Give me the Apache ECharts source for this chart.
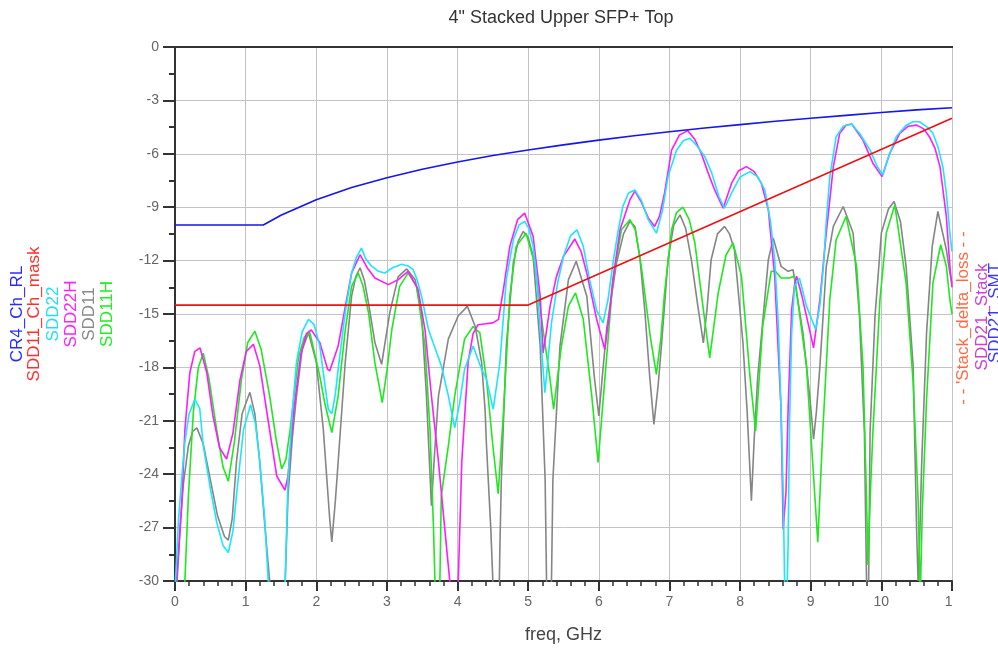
<!DOCTYPE html>
<html><head><meta charset="utf-8">
<script src="https://cdn.jsdelivr.net/npm/echarts@6/dist/echarts.min.js"></script>
<style>html,body{margin:0;padding:0;background:#fff}#c{width:998px;height:649px}</style>
</head><body><div id="c"></div>
<script>
const titleText = '4" Stacked Upper SFP+ Top';
const xName = 'freq, GHz';
const xTicks = [0,1,2,3,4,5,6,7,8,9,10,11];
const yTicks = [0,-3,-6,-9,-12,-15,-18,-21,-24,-27,-30];

const cr4ChRL = [[0,-10],[1.25,-10],[1.5,-9.45],[2,-8.58],[2.5,-7.89],[3,-7.35],[3.5,-6.87],[4,-6.46],[4.5,-6.1],[5,-5.79],[5.5,-5.5],[6,-5.23],[6.5,-4.99],[7,-4.76],[7.5,-4.55],[8,-4.36],[8.5,-4.17],[9,-4.0],[9.5,-3.84],[10,-3.68],[10.5,-3.53],[11,-3.41]];
const sdd11ChMask = [[0,-14.5],[5,-14.5],[11,-4.0]];
const sdd22 = [[0,-30.5],[0.05,-26.5],[0.1,-24],[0.14,-22.2],[0.2,-20.6],[0.28,-19.8],[0.35,-20.3],[0.4,-22.4],[0.5,-24.8],[0.59,-26.7],[0.68,-28],[0.755,-28.4],[0.82,-27.2],[0.87,-25.2],[0.97,-21.5],[1.07,-20.1],[1.14,-21.2],[1.2,-23.3],[1.27,-26.5],[1.32,-30],[1.36,-33],[1.52,-33],[1.56,-30],[1.6,-24.3],[1.66,-20.5],[1.72,-17.7],[1.8,-16.0],[1.89,-15.3],[1.97,-15.6],[2.05,-16.8],[2.12,-18.9],[2.17,-20.35],[2.22,-20.6],[2.27,-19.5],[2.31,-18.1],[2.41,-14.9],[2.5,-12.7],[2.57,-11.8],[2.64,-11.3],[2.7,-11.9],[2.78,-12.3],[2.88,-12.6],[2.97,-12.7],[3.08,-12.4],[3.21,-12.2],[3.3,-12.3],[3.37,-12.5],[3.43,-13.1],[3.49,-14.0],[3.59,-15.9],[3.68,-16.9],[3.77,-17.9],[3.87,-19.6],[3.96,-21.4],[4.03,-20.0],[4.1,-18.1],[4.22,-16.8],[4.34,-18.1],[4.41,-18.67],[4.505,-20.35],[4.6,-17.7],[4.69,-13.07],[4.79,-10.83],[4.87,-10.0],[4.95,-9.8],[5.01,-10.2],[5.07,-11.2],[5.12,-13],[5.17,-15.87],[5.236,-19.42],[5.28,-17.6],[5.33,-15.5],[5.42,-13.2],[5.5,-11.76],[5.6,-10.6],[5.69,-10.27],[5.78,-11.2],[5.87,-13.07],[5.97,-14.8],[6.06,-15.5],[6.13,-14.2],[6.2,-12.14],[6.27,-10.4],[6.34,-8.96],[6.42,-8.2],[6.51,-8.03],[6.6,-8.6],[6.7,-9.7],[6.815,-10.46],[6.9,-9.2],[6.98,-7.28],[7.1,-5.8],[7.2,-5.25],[7.29,-5.13],[7.4,-5.6],[7.5,-6.16],[7.6,-7.1],[7.7,-8.4],[7.78,-9.06],[7.88,-8.2],[8.0,-7.3],[8.14,-7.0],[8.25,-7.3],[8.35,-8.03],[8.43,-9.8],[8.49,-11.95],[8.54,-15.5],[8.58,-20.35],[8.61,-25],[8.63,-30],[8.65,-33],[8.68,-28],[8.70,-21.1],[8.73,-16.06],[8.77,-13.44],[8.84,-12.98],[8.94,-14.56],[9.07,-15.87],[9.13,-14.5],[9.18,-12.32],[9.22,-9.8],[9.27,-7.28],[9.36,-5.04],[9.46,-4.45],[9.58,-4.33],[9.7,-4.9],[9.84,-5.79],[9.94,-6.7],[10.02,-7.19],[10.1,-6.2],[10.21,-5.04],[10.35,-4.4],[10.45,-4.2],[10.54,-4.2],[10.65,-4.5],[10.73,-4.85],[10.8,-5.6],[10.87,-6.72],[10.92,-8.2],[10.97,-10.45],[11,-11.5]];
const sdd22H = [[0,-30.5],[0.03,-29.5],[0.094,-25.8],[0.14,-21.5],[0.21,-18.3],[0.28,-17.1],[0.354,-16.9],[0.45,-18.3],[0.536,-20.7],[0.63,-22.5],[0.73,-23.15],[0.82,-21.7],[0.92,-18.7],[1.01,-17.1],[1.11,-16.7],[1.2,-17.9],[1.3,-20.5],[1.44,-24.1],[1.556,-24.9],[1.6,-24.1],[1.68,-20.5],[1.78,-17.3],[1.86,-16.1],[1.93,-15.9],[2.05,-16.6],[2.16,-18.1],[2.19,-18.2],[2.31,-16.8],[2.41,-14.6],[2.5,-12.7],[2.62,-11.67],[2.72,-12.4],[2.83,-12.98],[3.02,-13.35],[3.16,-13.07],[3.3,-12.6],[3.44,-13.6],[3.54,-15.9],[3.63,-19.6],[3.73,-23.3],[3.82,-27.1],[3.89,-30],[3.92,-33],[3.98,-33],[4.01,-30],[4.06,-23.3],[4.15,-17.7],[4.22,-16.1],[4.29,-15.6],[4.4,-15.55],[4.5,-15.5],[4.58,-15.3],[4.65,-13.6],[4.74,-11.2],[4.85,-9.7],[4.95,-9.33],[5.07,-10.64],[5.17,-14.0],[5.21,-17.2],[5.25,-16.2],[5.31,-14.56],[5.4,-12.9],[5.5,-11.76],[5.66,-10.79],[5.75,-11.5],[5.83,-12.7],[5.97,-15.3],[6.085,-16.99],[6.14,-15.3],[6.2,-13.07],[6.3,-10.27],[6.44,-8.59],[6.51,-8.1],[6.6,-8.7],[6.7,-9.6],[6.79,-10.08],[6.86,-9.5],[6.93,-8.21],[7.03,-5.79],[7.14,-4.95],[7.26,-4.7],[7.36,-5.2],[7.45,-5.97],[7.55,-7.1],[7.64,-8.03],[7.76,-9.06],[7.88,-7.65],[7.98,-6.95],[8.09,-6.72],[8.2,-7.0],[8.3,-7.65],[8.4,-9.15],[8.49,-12.88],[8.58,-20.35],[8.61,-27.1],[8.65,-25],[8.68,-20.35],[8.73,-14.75],[8.77,-13.4],[8.8,-12.88],[8.87,-13.9],[8.94,-15.12],[9.04,-16.9],[9.13,-14.19],[9.22,-10.45],[9.32,-6.72],[9.41,-4.85],[9.5,-4.4],[9.58,-4.33],[9.74,-5.23],[9.88,-6.53],[10.01,-7.28],[10.12,-5.97],[10.26,-4.85],[10.38,-4.45],[10.5,-4.39],[10.6,-4.6],[10.68,-5.04],[10.76,-5.7],[10.83,-6.72],[10.92,-9.52],[10.97,-12.32],[11,-13.5]];
const sdd11 = [[0,-33],[0.03,-30],[0.08,-26.5],[0.12,-24.5],[0.19,-22.4],[0.25,-21.6],[0.31,-21.4],[0.4,-22.3],[0.5,-24.3],[0.6,-26.3],[0.7,-27.5],[0.755,-27.7],[0.81,-26.5],[0.87,-23.3],[0.95,-20.6],[1.06,-19.4],[1.13,-20.6],[1.2,-23.3],[1.27,-26.8],[1.34,-30],[1.37,-33],[1.53,-33],[1.56,-30],[1.6,-25.2],[1.66,-22.0],[1.72,-19.6],[1.8,-17.0],[1.89,-16.05],[2.0,-17.7],[2.1,-21.5],[2.19,-26.5],[2.22,-27.8],[2.27,-25.5],[2.31,-23.3],[2.41,-17.7],[2.5,-14.0],[2.56,-12.9],[2.62,-12.4],[2.68,-13.1],[2.74,-14.4],[2.83,-16.6],[2.925,-17.83],[3.04,-14.94],[3.16,-12.9],[3.28,-12.47],[3.4,-13.07],[3.49,-14.94],[3.56,-19.6],[3.63,-25.77],[3.68,-22.5],[3.73,-19.6],[3.87,-16.4],[4.01,-15.1],[4.14,-14.57],[4.25,-15.7],[4.34,-17.7],[4.39,-20.4],[4.41,-22.4],[4.47,-27],[4.5,-30],[4.53,-33],[4.58,-33],[4.6,-28],[4.62,-24.3],[4.69,-16.8],[4.79,-12.1],[4.86,-10.9],[4.93,-10.36],[5.0,-10.7],[5.07,-11.76],[5.17,-16.8],[5.24,-24.3],[5.26,-30],[5.28,-33],[5.31,-33],[5.33,-30],[5.35,-24.3],[5.45,-16.8],[5.57,-13.07],[5.68,-12.04],[5.83,-14.0],[5.94,-18.67],[6.0,-20.73],[6.05,-18.5],[6.11,-15.87],[6.25,-12.14],[6.35,-10.5],[6.44,-9.8],[6.51,-10.08],[6.58,-11.8],[6.65,-14.75],[6.72,-18.5],[6.78,-21.2],[6.84,-19],[6.89,-16.6],[6.98,-11.95],[7.06,-10.0],[7.15,-9.43],[7.23,-10.2],[7.31,-11.95],[7.4,-14.5],[7.48,-16.62],[7.53,-14.8],[7.59,-11.95],[7.68,-10.5],[7.78,-10.08],[7.85,-10.5],[7.92,-11.39],[8.04,-16.6],[8.1,-20.5],[8.16,-25.49],[8.2,-22],[8.25,-18.5],[8.4,-11.95],[8.47,-10.74],[8.58,-12.32],[8.68,-12.6],[8.75,-12.51],[8.89,-16.06],[8.99,-19.79],[9.04,-22.03],[9.08,-20.5],[9.13,-17.93],[9.22,-12.32],[9.32,-10.08],[9.46,-8.96],[9.6,-10.45],[9.69,-15.12],[9.76,-21.66],[9.79,-30],[9.8,-33],[9.82,-30],[9.84,-21.66],[9.91,-15.12],[10.0,-10.45],[10.1,-9.1],[10.18,-8.68],[10.27,-9.8],[10.35,-12.32],[10.45,-17.93],[10.5,-27.3],[10.52,-30],[10.54,-28],[10.57,-23.5],[10.64,-16.06],[10.72,-11.2],[10.8,-9.24],[10.92,-11.39],[10.97,-12.7],[11,-13.3]];
const sdd11H = [[0.1,-33],[0.14,-30],[0.19,-25.2],[0.26,-20.5],[0.33,-18.0],[0.40,-17.2],[0.48,-18.6],[0.59,-21.5],[0.68,-23.6],[0.755,-24.4],[0.84,-22.2],[0.94,-18.7],[1.03,-16.6],[1.13,-15.96],[1.22,-17.0],[1.34,-19.6],[1.43,-22.0],[1.51,-23.7],[1.57,-23.2],[1.63,-21.5],[1.75,-17.4],[1.83,-16.3],[1.91,-16.05],[2.05,-18.5],[2.12,-20.0],[2.22,-21.66],[2.31,-19.6],[2.41,-15.9],[2.5,-13.45],[2.594,-12.7],[2.66,-13.4],[2.74,-14.94],[2.83,-17.74],[2.934,-19.98],[3.0,-18.2],[3.07,-15.87],[3.18,-13.45],[3.3,-12.7],[3.42,-13.45],[3.54,-16.8],[3.61,-21.5],[3.66,-27.1],[3.68,-30],[3.7,-33],[3.73,-33],[3.75,-30],[3.77,-25.2],[3.87,-22.4],[3.96,-19.6],[4.1,-16.4],[4.22,-15.7],[4.316,-16.06],[4.41,-18.67],[4.5,-22.4],[4.575,-25.1],[4.65,-20.54],[4.74,-14.0],[4.83,-11.2],[4.97,-10.46],[5.09,-12.14],[5.21,-15.87],[5.31,-18.67],[5.36,-20.35],[5.47,-16.8],[5.57,-14.56],[5.67,-13.82],[5.78,-15.3],[5.9,-19.6],[5.99,-23.34],[6.085,-18.67],[6.2,-13.07],[6.32,-10.27],[6.44,-9.7],[6.52,-10.3],[6.6,-12.3],[6.65,-13.82],[6.73,-16.3],[6.815,-18.39],[6.88,-16.3],[6.93,-13.82],[7.03,-10.27],[7.1,-9.3],[7.19,-9.0],[7.28,-9.7],[7.36,-11.0],[7.48,-14.75],[7.57,-17.46],[7.69,-13.82],[7.8,-11.7],[7.9,-11.0],[8.02,-12.88],[8.14,-18.5],[8.22,-21.57],[8.32,-15.7],[8.44,-12.6],[8.5,-12.6],[8.58,-12.98],[8.7,-12.98],[8.77,-12.88],[8.94,-17.93],[9.03,-23.5],[9.1,-27.82],[9.17,-21.66],[9.27,-14.19],[9.36,-10.83],[9.5,-9.52],[9.65,-12.32],[9.74,-17.93],[9.79,-25.4],[9.81,-29.1],[9.85,-24.5],[9.88,-21.66],[9.98,-14.19],[10.07,-10.45],[10.19,-8.87],[10.35,-13.26],[10.45,-18.86],[10.52,-25.4],[10.55,-31],[10.58,-26],[10.64,-19.79],[10.73,-13.26],[10.84,-11.11],[10.92,-12.32],[10.97,-14.19],[11,-15]];

const leftLegend = [
  {name:'CR4_Ch_RL', color:'#2b2bff'},
  {name:'SDD11_Ch_mask', color:'#ff3030'},
  {name:'SDD22', color:'#22dcff'},
  {name:'SDD22H', color:'#ff22ff'},
  {name:'SDD11', color:'#8a8a8a'},
  {name:'SDD11H', color:'#22ee22'}
];
const rightLegend = [
  {name:'- - \'Stack_delta_loss - -', color:'#ff6a45'},
  {name:'SDD21_Stack', color:'#d040d0'},
  {name:'SDD21_SMT', color:'#3a3aff'}
];

const FONT = '"Liberation Sans", Arial, sans-serif';
const chart = echarts.init(document.getElementById('c'), null, {renderer:'canvas'});

function mk(name, data, color, z){
  return {name, type:'line', data, showSymbol:false, symbol:'none', z: z||2, clip:true,
    lineStyle:{color, width:1.6}, animation:false};
}

const leftX = [17, 34, 53, 71, 89, 107];
const rightX = [963, 982, 995];
const graphics = [];
graphics.push({type:'text', x:561, y:18, z:10,
  style:{text:titleText, x:0, y:0, fill:'#333', font:'18px '+FONT, align:'center', verticalAlign:'middle'}});
leftLegend.forEach((l,i)=>{
  graphics.push({type:'text', x:leftX[i], y:314, rotation:Math.PI/2, z:10,
    style:{text:l.name, x:0, y:0, fill:l.color, font:'17px '+FONT, align:'center', verticalAlign:'middle'}});
});
rightLegend.forEach((l,i)=>{
  graphics.push({type:'text', x:rightX[i], y:[318,317,313][i], rotation:Math.PI/2, z:10,
    style:{text:l.name, x:0, y:0, fill:l.color, font:'17px '+FONT, align:'center', verticalAlign:'middle'}});
});
graphics.push({type:'rect', shape:{x:952, y:592, width:46, height:26}, z:9, style:{fill:'#fff'}});

chart.setOption({
  backgroundColor:'#fff',
  animation:false,
  grid:{left:175, right:46, top:47, bottom:67},
  xAxis:{type:'value', min:xTicks[0], max:xTicks[xTicks.length-1], interval:1,
    name:xName, nameLocation:'middle', nameGap:45,
    nameTextStyle:{fontFamily:FONT, fontSize:18, color:'#444'},
    axisLine:{onZero:false, lineStyle:{color:'#333', width:2}},
    axisTick:{length:10, lineStyle:{color:'#333', width:2}},
    minorTick:{show:true, splitNumber:5, length:5, lineStyle:{color:'#333', width:1.5}},
    axisLabel:{fontFamily:FONT, fontSize:14, color:'#666', margin:14},
    splitLine:{show:true, lineStyle:{color:'#c4c4c4', width:1}}
  },
  yAxis:{type:'value', min:yTicks[yTicks.length-1], max:yTicks[0], interval:3,
    axisLine:{show:true, onZero:false, lineStyle:{color:'#333', width:2}},
    axisTick:{show:true, length:12, lineStyle:{color:'#333', width:2}},
    minorTick:{show:true, splitNumber:2, length:6, lineStyle:{color:'#333', width:2}},
    axisLabel:{fontFamily:FONT, fontSize:14, color:'#666', margin:16},
    splitLine:{show:true, lineStyle:{color:'#c4c4c4', width:1}}
  },
  series:[
    mk('SDD11', sdd11, '#858585', 3),
    mk('SDD11H', sdd11H, '#1ee81e', 4),
    mk('SDD22H', sdd22H, '#ff1aff', 5),
    mk('SDD22', sdd22, '#1ae6ff', 6),
    mk('SDD11_Ch_mask', sdd11ChMask, '#ee1111', 7),
    mk('CR4_Ch_RL', cr4ChRL, '#1515ee', 8)
  ],
  graphic:graphics
});
// top frame line of the plot box, placed from the axes' own scale
const pL = chart.convertToPixel({gridIndex:0}, [xTicks[0], yTicks[0]]);
const pR = chart.convertToPixel({gridIndex:0}, [xTicks[xTicks.length-1], yTicks[0]]);
graphics.push({type:'line', z:9, shape:{x1:pL[0]-1, y1:pL[1], x2:pR[0]+1, y2:pR[1]}, style:{stroke:'#333', lineWidth:2}});
chart.setOption({graphic:graphics});
</script></body></html>
